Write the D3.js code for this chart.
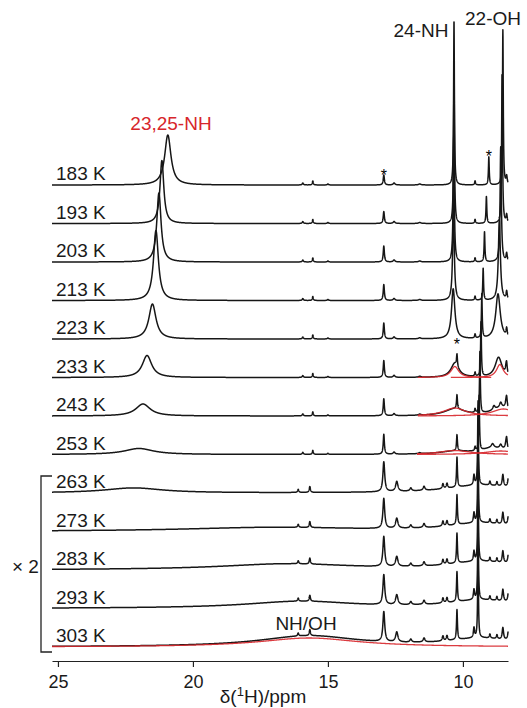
<!DOCTYPE html>
<html><head><meta charset="utf-8">
<script src="https://cdn.jsdelivr.net/npm/d3@7"></script>
<style>
body{margin:0;background:#fff}
svg{display:block}
text{font-family:"Liberation Sans",Arial,Helvetica,sans-serif}
</style>
</head><body>
<svg id="chart" width="527" height="708"></svg>
<script>
// ---------------- data ----------------
const temps = [183, 193, 203, 213, 223, 233, 243, 253, 263, 273, 283, 293, 303];
const gain  = [1, 1, 1, 1, 1, 1, 1, 1, 2, 2, 2, 2, 2];           // "× 2" traces
const tickValues = [25, 20, 15, 10];

// 23,25-NH resonance (ppm, height a.u., FWHM ppm)
const nh2325Pos    = [20.93, 21.15, 21.26, 21.37, 21.5, 21.7, 21.85, 22.0, 22.2, null, null, null, null];
const nh2325Height = [50, 63, 69, 70, 35, 22, 12, 6, 2.5, 0, 0, 0, 0];
const nh2325Width  = [0.28, 0.17, 0.19, 0.22, 0.32, 0.42, 0.65, 1.3, 2.6, 1, 1, 1, 1];

// 24-NH resonance
const nh24Pos    = [10.33, 10.33, 10.34, 10.35, 10.36, 10.3, 10.3, 10.3, null, null, null, null, null];
const nh24Height = [165, 150, 125, 95, 50, 14, 7, 3, 0, 0, 0, 0, 0];
const nh24Width  = [0.035, 0.04, 0.05, 0.07, 0.15, 0.35, 0.9, 1.3, 1, 1, 1, 1, 1];

// 22-OH resonance
const oh22Pos    = [8.52, 8.55, 8.6, 8.65, 8.7, 8.68, 8.55, 8.6, null, null, null, null, null];
const oh22Height = [155, 150, 115, 80, 45, 20, 8, 4, 0, 0, 0, 0, 0];
const oh22Width  = [0.035, 0.04, 0.055, 0.09, 0.2, 0.3, 0.9, 1.3, 1, 1, 1, 1, 1];

// sharp signal near 9 ppm (starred at 183 K)
const sharpPos    = [9.04, 9.13, 9.2, 9.25, 9.3, 9.33, 9.37, 9.4, 9.44, 9.44, 9.44, 9.44, 9.44];
const sharpHeight = [28, 27, 30, 32, 44, 55, 62, 55, 42, 42, 42, 42, 42];

// sharp signals at 12.93 ppm (starred) and 10.22 ppm (starred at 233 K)
const p1293Height = [10, 12, 16, 16, 16, 17, 17, 20, 15, 15, 15, 15, 15];
const p1022Height = [0, 0, 0, 0, 0, 12, 14, 16, 15, 15, 15, 15, 15];

// broad exchange-averaged NH/OH hump (273–303 K)
const nhohPos    = [null, null, null, null, null, null, null, null, null, 17.0, 16.5, 16.0, 15.7];
const nhohHeight = [0, 0, 0, 0, 0, 0, 0, 0, 0, 2, 3, 3.5, 5.5];
const nhohWidth  = [1, 1, 1, 1, 1, 1, 1, 1, 1, 8, 6, 5, 4.5];

// small signals, low temperatures (183–253 K): [ppm, height, FWHM]
const minorLow = [[15.93, 2, 0.05], [15.56, 4, 0.04], [15.0, 1, 0.05], [12.55, 2, 0.08],
                  [11.6, 1, 0.1], [9.55, 4, 0.04], [8.38, 8, 0.05]];
// extra right-edge signals for 233–253 K
const edge233 = [[8.4, 6, 0.06]];
const edge243 = [[8.85, 4, 0.1], [8.6, 5, 0.1], [8.4, 6, 0.08]];
const edge253 = [[8.9, 4, 0.12], [8.6, 4, 0.1], [8.4, 6, 0.08], [9.0, 3, 0.8]];
// small signals, high temperatures (263–303 K, before × 2)
const minorHigh = [[16.1, 1.5, 0.05], [15.67, 3, 0.05], [12.45, 5, 0.1], [11.93, 1.5, 0.08],
                   [11.44, 2, 0.08], [10.74, 2.5, 0.06], [10.59, 2.5, 0.06], [9.59, 5, 0.05],
                   [9.0, 2, 0.05], [8.74, 2, 0.05], [8.52, 6, 0.06], [8.3, 8, 0.06], [9.3, 4, 3.0]];

// red deconvolution fits: [trace index, ppm, height, FWHM, ppm from, ppm to]
const fitTrace  = [5, 5, 6, 6, 7, 7, 12];
const fitPos    = [10.3, 8.63, 10.3, 8.5, 10.3, 8.6, 15.7];
const fitHeight = [11, 13, 8, 7, 4, 3.5, 4.5];
const fitWidth  = [0.35, 0.3, 1.0, 1.0, 1.4, 1.4, 4.5];
const fitFrom   = [11.67, 10.45, 11.67, 11.67, 11.7, 11.7, 25.22];
const fitTo     = [8.95, 8.33, 8.33, 8.33, 8.33, 8.33, 8.33];

// ---------------- drawing ----------------
const svg = d3.select("#chart");
const x = d3.scaleLinear().domain([25.22, 8.33]).range([52, 508]);
const row = d3.scaleLinear().domain([0, temps.length - 1]).range([185, 647]);
const amp = d3.scaleLinear().domain([0, 100]).range([0, 100]);

const lor = (d, p, h, w) => { const t = (d - p) / (w / 2); return h / (1 + t * t); };
const step = 0.004;
const grid = d3.range(0, Math.round((25.22 - 8.33) / step) + 1).map(i => 25.22 - i * step);

function peaksFor(i) {
  const list = [];
  if (nh2325Pos[i] != null) list.push([nh2325Pos[i], nh2325Height[i], nh2325Width[i]]);
  if (nh24Pos[i] != null) list.push([nh24Pos[i], nh24Height[i], nh24Width[i]]);
  if (oh22Pos[i] != null) list.push([oh22Pos[i], oh22Height[i], oh22Width[i]]);
  if (nhohPos[i] != null) list.push([nhohPos[i], nhohHeight[i], nhohWidth[i]]);
  list.push([sharpPos[i], sharpHeight[i], 0.035]);
  list.push([12.93, p1293Height[i], i < 8 ? 0.05 : 0.08]);
  if (p1022Height[i] > 0) list.push([10.22, p1022Height[i], 0.04]);
  (i < 8 ? minorLow : minorHigh).forEach(p => list.push(p));
  if (i === 5) edge233.forEach(p => list.push(p));
  if (i === 6) edge243.forEach(p => list.push(p));
  if (i === 7) edge253.forEach(p => list.push(p));
  return list;
}

const line = d3.line().x(d => x(d[0])).y(d => d[1]);

// traces
temps.forEach((t, i) => {
  const pk = peaksFor(i);
  const base = row(i);
  const pts = grid.map(d => {
    let s = 0;
    for (const p of pk) s += lor(d, p[0], p[1], p[2]);
    return [d, base - amp(s * gain[i])];
  });
  svg.append("path").attr("d", line(pts))
    .attr("fill", "none").attr("stroke", "#161616").attr("stroke-width", 1.5)
    .attr("stroke-linejoin", "round");
  svg.append("text").attr("x", 56).attr("y", base - 5)
    .attr("font-size", 19).attr("fill", "#1a1a1a").text(t + " K");
});

// red fits
fitTrace.forEach((ti, k) => {
  const base = row(ti);
  const pts = grid.filter(d => d <= fitFrom[k] && d >= fitTo[k]).map(d =>
    [d, base - amp(lor(d, fitPos[k], fitHeight[k], fitWidth[k]) * gain[ti])]);
  svg.append("path").attr("d", line(pts))
    .attr("fill", "none").attr("stroke", "#d7262b").attr("stroke-width", 1.3)
    .attr("opacity", 0.9);
});

// axis
const axis = d3.axisBottom(x).tickValues(tickValues).tickFormat(d3.format("d"))
  .tickSize(6).tickSizeOuter(0).tickPadding(8);
const gx = svg.append("g").attr("transform", "translate(0,661)").call(axis);
gx.select(".domain").attr("stroke", "#222").attr("stroke-width", 1.2);
gx.selectAll(".tick line").attr("stroke", "#222").attr("stroke-width", 1.2);
gx.selectAll(".tick text").attr("font-size", 18).attr("fill", "#1a1a1a")
  .attr("font-family", "Liberation Sans, Arial, sans-serif");

const title = svg.append("text").attr("x", 263).attr("y", 703).attr("text-anchor", "middle")
  .attr("font-size", 19).attr("fill", "#1a1a1a");
title.append("tspan").text("δ(");
title.append("tspan").attr("font-size", 13).attr("dy", -7).text("1");
title.append("tspan").attr("dy", 7).text("H)/ppm");

// peak annotations
svg.append("text").attr("x", 171).attr("y", 130).attr("text-anchor", "middle")
  .attr("font-size", 19).attr("fill", "#d7262b").text("23,25-NH");
svg.append("text").attr("x", 421).attr("y", 37).attr("text-anchor", "middle")
  .attr("font-size", 19).attr("fill", "#1a1a1a").text("24-NH");
svg.append("text").attr("x", 493).attr("y", 25).attr("text-anchor", "middle")
  .attr("font-size", 19).attr("fill", "#1a1a1a").text("22-OH");
svg.append("text").attr("x", 306).attr("y", 630).attr("text-anchor", "middle")
  .attr("font-size", 19).attr("fill", "#1a1a1a").text("NH/OH");
[[12.93, 181], [9.04, 162], [10.22, 350]].forEach(s => {
  svg.append("text").attr("x", x(s[0])).attr("y", s[1]).attr("text-anchor", "middle")
    .attr("font-size", 16).attr("fill", "#000").text("*");
});

// × 2 bracket
const by0 = row(8) - 17, by1 = row(12) + 5;
svg.append("path").attr("d", `M52,${by0}H41V${by1}H52`)
  .attr("fill", "none").attr("stroke", "#222").attr("stroke-width", 1.3);
svg.append("text").attr("x", 12).attr("y", 573).attr("font-size", 19)
  .attr("fill", "#1a1a1a").text("× 2");
</script>
</body></html>
